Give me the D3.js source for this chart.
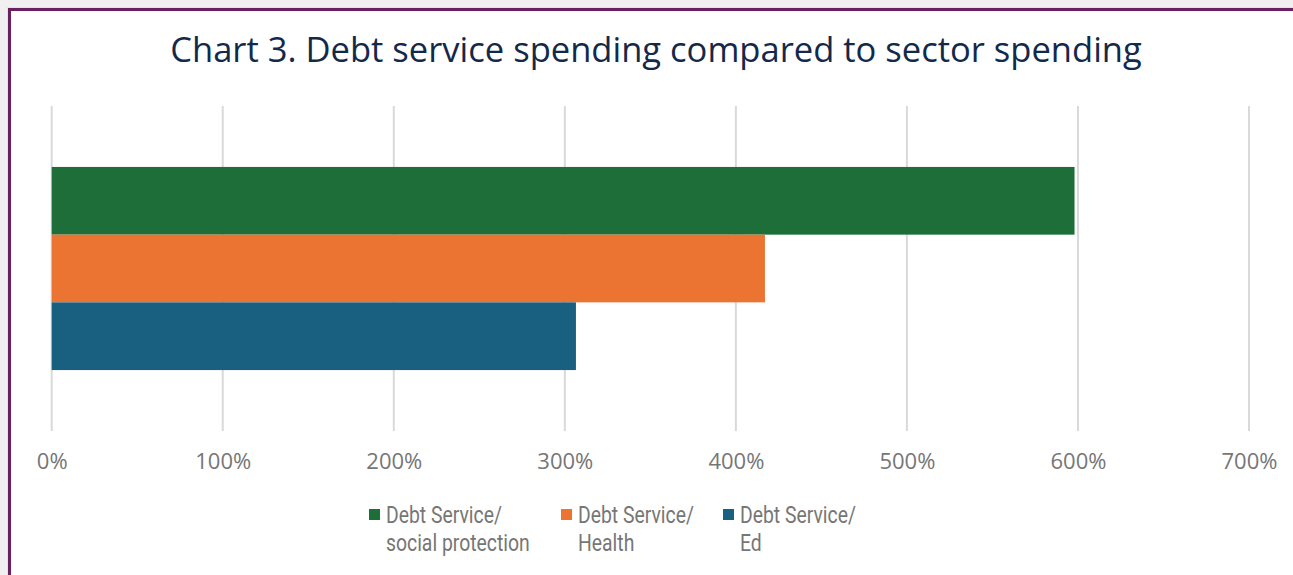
<!DOCTYPE html>
<html><head><meta charset="utf-8">
<script src="https://cdn.jsdelivr.net/npm/d3@7"></script>
<style>html,body{margin:0;padding:0;background:#f0f0f0;overflow:hidden}</style>
</head><body>
<svg id="c" width="1293" height="575"></svg>
<script>
const title = "Chart 3. Debt service spending compared to sector spending";
const categories = ["Debt Service"];
const seriesNames = [["Debt Service/", "social protection"], ["Debt Service/", "Health"], ["Debt Service/", "Ed"]];
const seriesKeys = ["social", "health", "ed"];
const seriesValues = [5.98, 4.17, 3.065];
const colors = ["#1d6e39", "#eb7433", "#196080"];
const tickValues = [0, 1, 2, 3, 4, 5, 6, 7];

const FONT = "'Open Sans', 'Noto Sans', sans-serif";
const LFONT = "Roboto, 'Open Sans', sans-serif";
const svg = d3.select("#c");

// background / frame
svg.append("rect").attr("x", 0).attr("y", 0).attr("width", 1293).attr("height", 575).attr("fill", "#f0f0f0");
svg.append("rect").attr("x", 7).attr("y", 7).attr("width", 1300).attr("height", 600).attr("fill", "#e4e4e4");
svg.append("rect").attr("x", 9.5).attr("y", 9.5).attr("width", 1300).attr("height", 600)
  .attr("fill", "#ffffff").attr("stroke", "#6b1f63").attr("stroke-width", 3);

function fit(sel, target) {
  const w = sel.node().getComputedTextLength();
  const fs = parseFloat(sel.attr("font-size"));
  sel.attr("font-size", fs * target / w);
}

// title
const t = svg.append("text").attr("x", 656).attr("y", 62).attr("text-anchor", "middle")
  .attr("font-family", FONT).attr("font-size", 34).attr("fill", "#13294b").text(title);
fit(t, 972);

// scales
const x = d3.scaleLinear().domain([0, 7]).range([51.7, 1249]);
const y0 = d3.scaleBand().domain(categories).range([106, 431]).paddingInner(0).paddingOuter(0.3);
const y1 = d3.scaleBand().domain(seriesKeys).range([0, y0.bandwidth()]);

// gridlines
svg.append("g").selectAll("line").data(tickValues).join("line")
  .attr("x1", d => x(d)).attr("x2", d => x(d)).attr("y1", 106).attr("y2", 431)
  .attr("stroke", "#d9d9d9").attr("stroke-width", 2);

// bars
svg.append("g").selectAll("rect").data(seriesKeys.map((k, i) => ({k, v: seriesValues[i], c: colors[i]}))).join("rect")
  .attr("x", x(0)).attr("y", d => y0(categories[0]) + y1(d.k))
  .attr("width", d => x(d.v) - x(0)).attr("height", y1.bandwidth()).attr("fill", d => d.c);

// axis
const axis = d3.axisBottom(x).tickValues(tickValues).tickSize(0).tickPadding(0)
  .tickFormat(d => d3.format(".0%")(d));
const ag = svg.append("g").attr("transform", "translate(0,469)").call(axis);
ag.select(".domain").remove();
ag.selectAll("text").attr("font-family", FONT).attr("font-size", 19).attr("fill", "#767676").attr("dy", 0);
const probe = ag.selectAll("text").filter(d => d === 1);
const fw = probe.node().getComputedTextLength();
ag.selectAll("text").attr("font-size", 19 * 56 / fw);

// legend
const legSquareX = [369, 561, 723];
const leg = svg.append("g");
const LFS = 23.5;
let kx = null;
seriesNames.forEach((lines, i) => {
  const lx = legSquareX[i];
  leg.append("rect").attr("x", lx).attr("y", 509).attr("width", 11).attr("height", 11).attr("fill", colors[i]);
  const tx = leg.append("text").attr("font-family", LFONT).attr("font-size", LFS).attr("fill", "#767676");
  lines.forEach((ln, j) => tx.append("tspan").attr("x", 0).attr("y", j * 28.5).text(ln));
  if (kx === null) kx = 116 / tx.select("tspan").node().getComputedTextLength();
  tx.attr("transform", `translate(${lx + 17},523) scale(${kx},1)`);
});
</script>
</body></html>
